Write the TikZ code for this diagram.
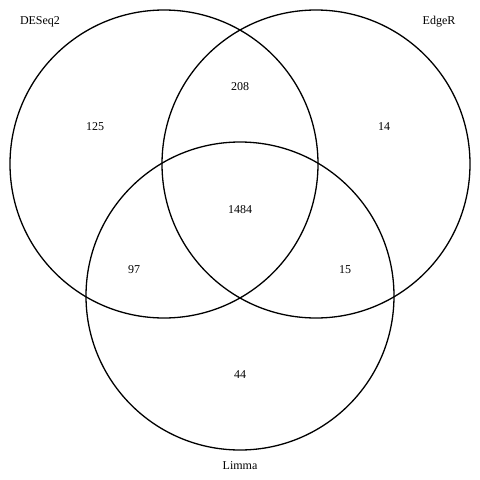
\documentclass[tikz,border=0pt]{standalone}
\usepackage{fontspec}
\setmainfont{Liberation Serif}
\begin{document}
\begin{tikzpicture}[x=1pt,y=-1pt,
  setcircle/.style={draw=black,line width=1.3pt},
  lbl/.style={font=\fontsize{12}{14}\selectfont,inner sep=0pt}]
\useasboundingbox (0,0) rectangle (480,480);
\fill[white] (0,0) rectangle (480,480);
\node[setcircle,circle,minimum size=308pt,inner sep=0pt] (deseq) at (164,164) {};
\node[setcircle,circle,minimum size=308pt,inner sep=0pt] (edger) at (316,164) {};
\node[setcircle,circle,minimum size=308pt,inner sep=0pt] (limma) at (240,296) {};
\node[lbl] (tdeseq) at (40,22) {DESeq2};
\node[lbl] (tedger) at (439,22) {EdgeR};
\node[lbl] (tlimma) at (240,466) {Limma};
\node[lbl] (n125) at (95,127) {125};
\node[lbl] (n208) at (240,87) {208};
\node[lbl] (n14) at (384,127) {14};
\node[lbl] (n1484) at (240,210) {1484};
\node[lbl] (n97) at (134,270) {97};
\node[lbl] (n15) at (345,270) {15};
\node[lbl] (n44) at (240,375) {44};
\end{tikzpicture}
\end{document}
